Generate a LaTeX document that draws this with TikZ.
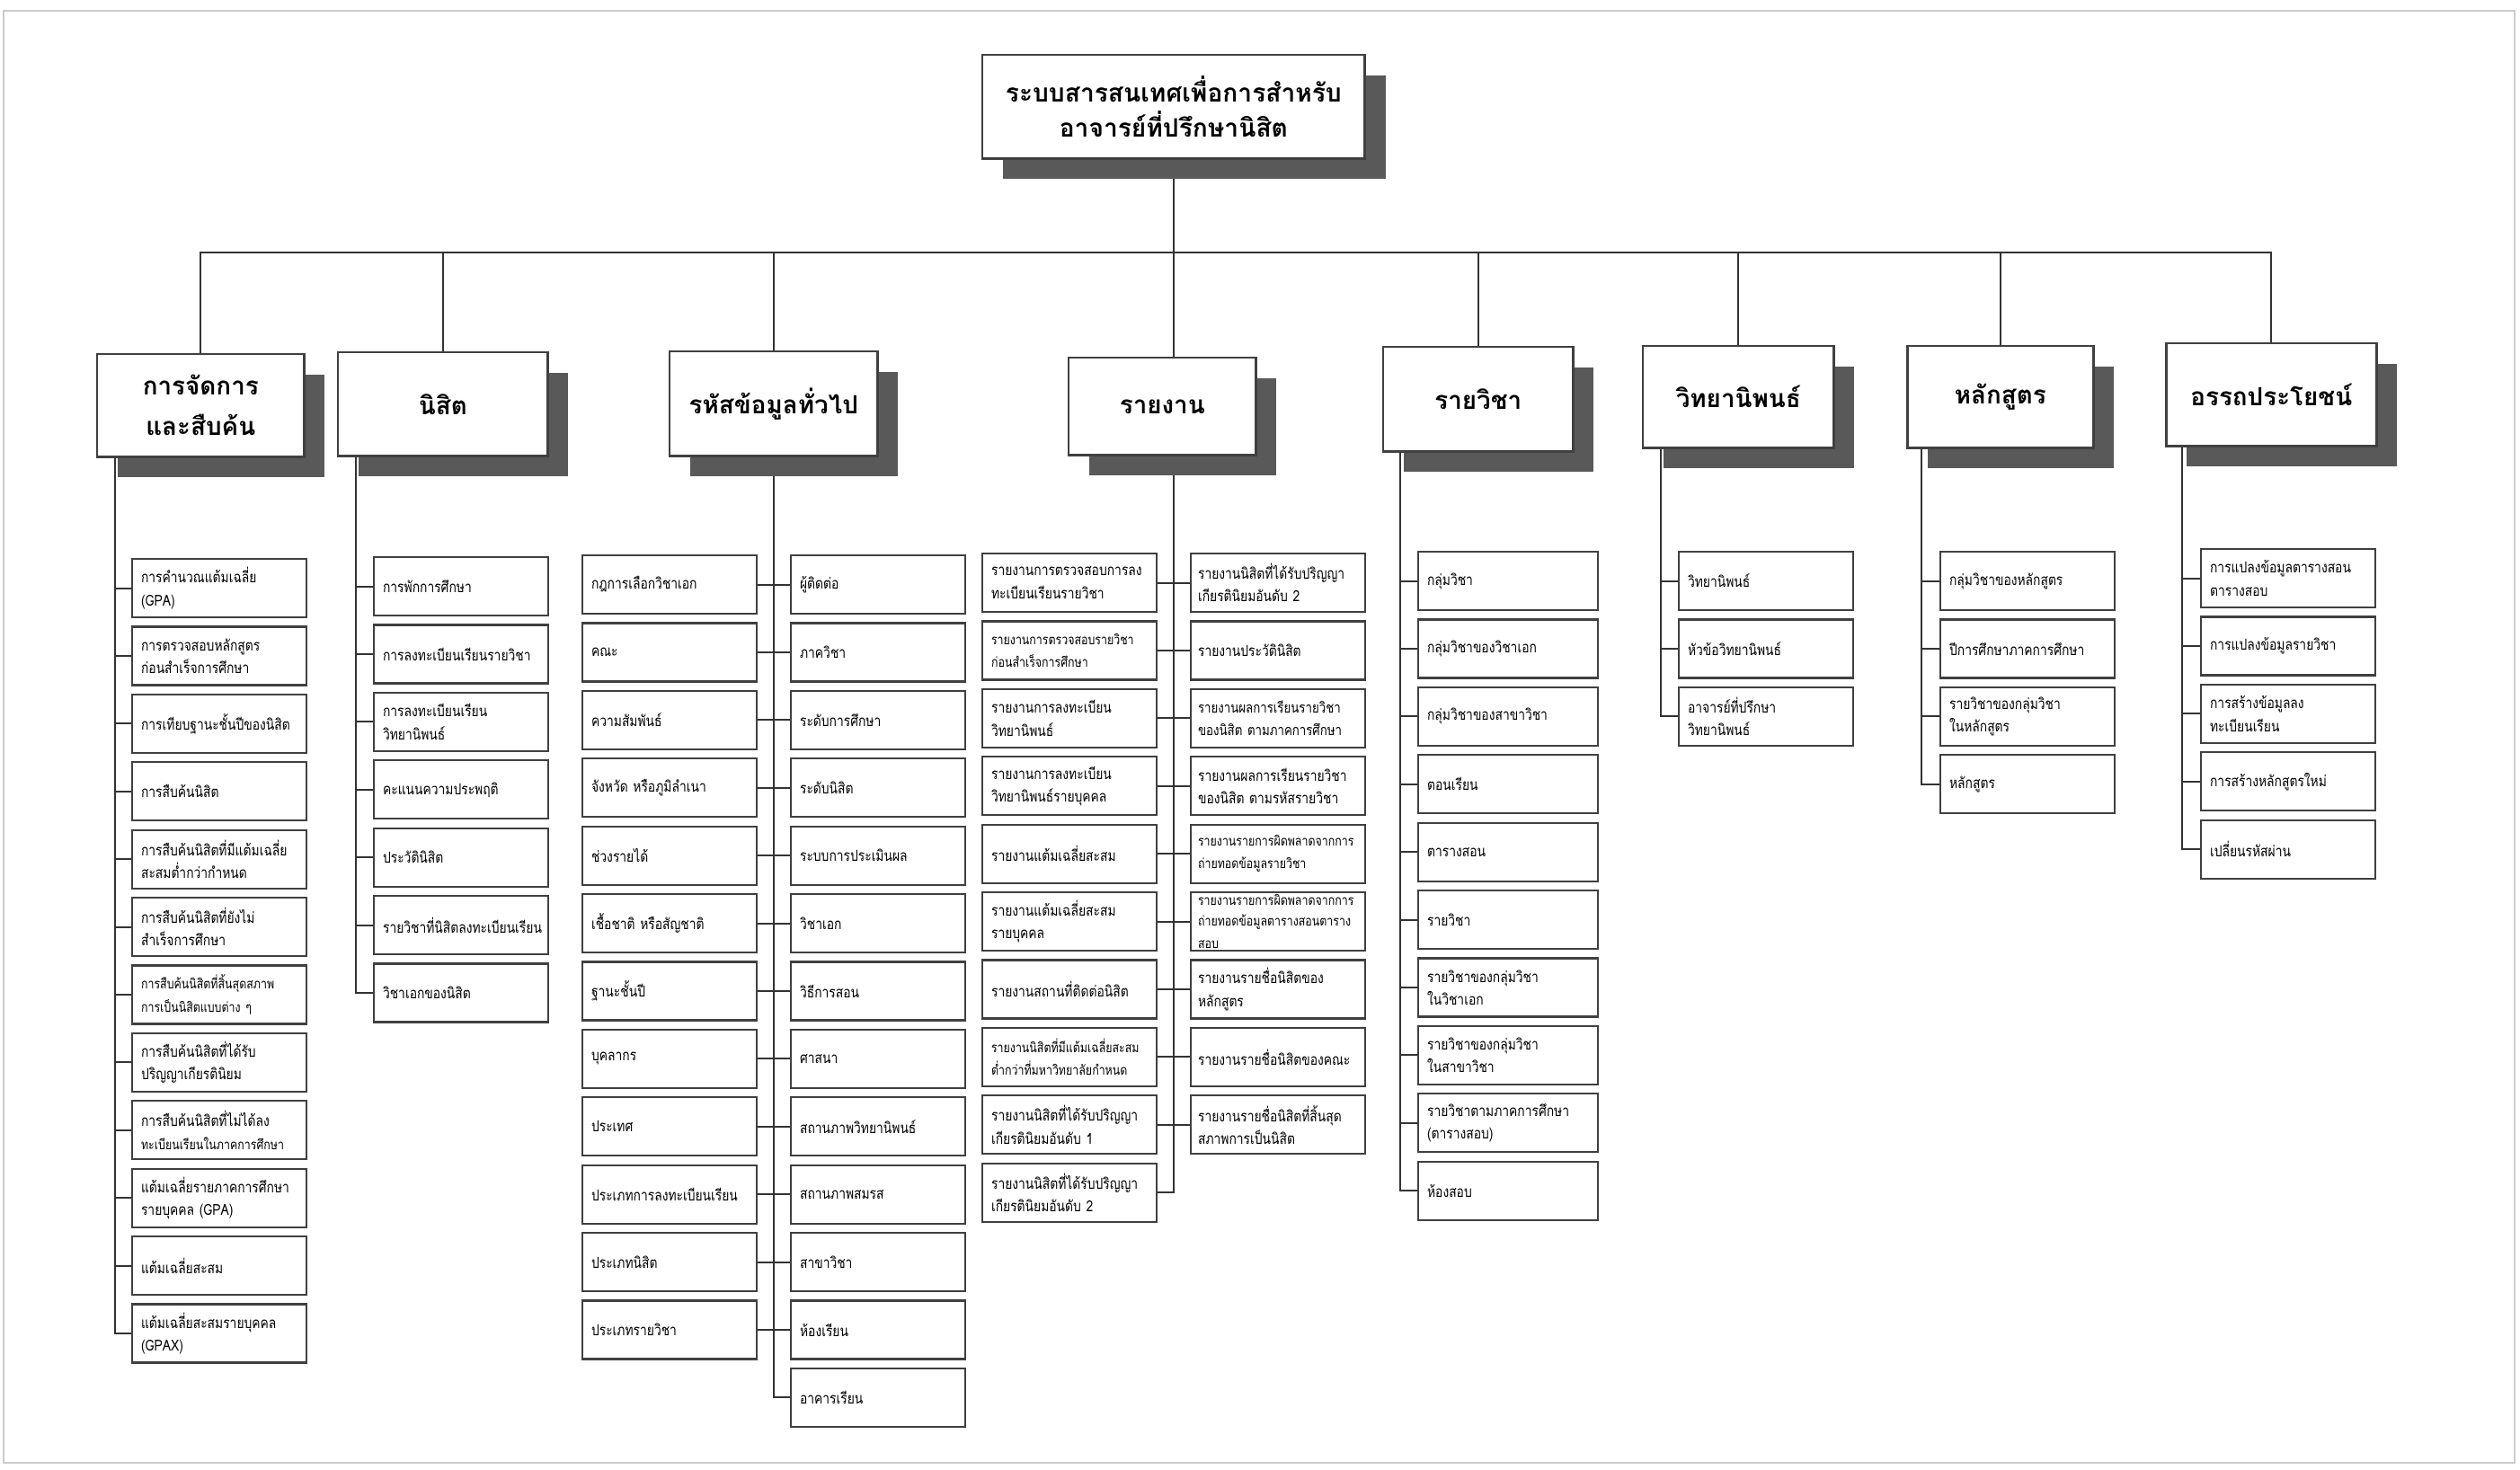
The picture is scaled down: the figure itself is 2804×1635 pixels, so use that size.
\documentclass[tikz,border=0pt]{standalone}
\usepackage{fontspec}
\newfontfamily\thai[Script=Thai]{Loma}
\newfontfamily\thaic[Script=Thai, FakeStretch=0.82]{Loma}
\usetikzlibrary{shadows}
\pgfdeclarelayer{bg}
\pgfsetlayers{bg,main}
\newcommand\sm{\fontsize{4.3}{6.3}\selectfont}
\begin{document}
\begin{tikzpicture}[x=0.01cm,y=-0.01cm,
  conn/.style={draw=black!80, line width=0.55pt},
  itm/.style={draw=black!75, line width=0.6pt, fill=white, anchor=north west,
    minimum width=1.94cm, minimum height=0.65cm, text width=1.74cm, align=left,
    inner sep=0pt, font=\thaic\fontsize{4.8}{7.2}\selectfont},
  hdr/.style={draw=black!75, line width=0.7pt, fill=white, anchor=north west,
    inner sep=0pt, align=center, font=\thai\bfseries\fontsize{7.9}{12.8}\selectfont,
    general shadow={fill=black!65, shadow xshift=0.23cm, shadow yshift=-0.23cm}}]
\useasboundingbox (0,0) rectangle (2804,1635);
\draw[gray!40, line width=0.5pt] (4,12) rectangle (2798,1628);

% title and headers
\node[hdr, minimum width=4.25cm, minimum height=1.15cm,
  font=\thai\bfseries\fontsize{8.0}{11}\selectfont] (title) at (1092,60)
  {ระบบสารสนเทศเพื่อการสำหรับ\\อาจารย์ที่ปรึกษานิสิต};
\node[hdr, minimum width=2.30cm, minimum height=1.14cm] (h1) at (107,393) {การจัดการ\\และสืบค้น};
\node[hdr, minimum width=2.33cm, minimum height=1.15cm] (h2) at (375,391) {นิสิต};
\node[hdr, minimum width=2.31cm, minimum height=1.16cm] (h3) at (744,390) {รหัสข้อมูลทั่วไป};
\node[hdr, minimum width=2.08cm, minimum height=1.08cm] (h4) at (1188,397) {รายงาน};
\node[hdr, minimum width=2.11cm, minimum height=1.16cm] (h5) at (1538,385) {รายวิชา};
\node[hdr, minimum width=2.12cm, minimum height=1.13cm] (h6) at (1827,384) {วิทยานิพนธ์};
\node[hdr, minimum width=2.07cm, minimum height=1.13cm] (h7) at (2121,384) {หลักสูตร};
\node[hdr, minimum width=2.34cm, minimum height=1.14cm] (h8) at (2409,381) {อรรถประโยชน์};

% column 1
\foreach \t [count=\i] in {การคำนวณแต้มเฉลี่ย\\(GPA),
  การตรวจสอบหลักสูตร\\ก่อนสำเร็จการศึกษา,
  การเทียบฐานะชั้นปีของนิสิต,
  การสืบค้นนิสิต,
  การสืบค้นนิสิตที่มีแต้มเฉลี่ย\\สะสมต่ำกว่ากำหนด,
  การสืบค้นนิสิตที่ยังไม่\\สำเร็จการศึกษา,
  \sm การสืบค้นนิสิตที่สิ้นสุดสภาพ\\การเป็นนิสิตแบบต่าง ๆ,
  การสืบค้นนิสิตที่ได้รับ\\ปริญญาเกียรตินิยม,
  การสืบค้นนิสิตที่ไม่ได้ลง\\{\sm ทะเบียนเรียนในภาคการศึกษา},
  แต้มเฉลี่ยรายภาคการศึกษา\\รายบุคคล (GPA),
  แต้มเฉลี่ยสะสม,
  แต้มเฉลี่ยสะสมรายบุคคล\\(GPAX)}
  \node[itm] (a\i) at (146,{621+75.4*(\i-1)}) {\t};

% column 2
\foreach \t [count=\i] in {การพักการศึกษา,
  การลงทะเบียนเรียนรายวิชา,
  การลงทะเบียนเรียน\\วิทยานิพนธ์,
  คะแนนความประพฤติ,
  ประวัตินิสิต,
  รายวิชาที่นิสิตลงทะเบียนเรียน,
  วิชาเอกของนิสิต}
  \node[itm] (b\i) at (415,{619+75.4*(\i-1)}) {\t};

% column 3
\foreach \t [count=\i] in {กฎการเลือกวิชาเอก, คณะ, ความสัมพันธ์,
  จังหวัด หรือภูมิลำเนา, ช่วงรายได้, เชื้อชาติ หรือสัญชาติ, ฐานะชั้นปี,
  บุคลากร, ประเทศ, ประเภทการลงทะเบียนเรียน, ประเภทนิสิต, ประเภทรายวิชา}
  \node[itm] (l\i) at (647,{617+75.4*(\i-1)}) {\t};
\foreach \t [count=\i] in {ผู้ติดต่อ, ภาควิชา, ระดับการศึกษา, ระดับนิสิต,
  ระบบการประเมินผล, วิชาเอก, วิธีการสอน, ศาสนา, สถานภาพวิทยานิพนธ์,
  สถานภาพสมรส, สาขาวิชา, ห้องเรียน, อาคารเรียน}
  \node[itm] (r\i) at (879,{617+75.4*(\i-1)}) {\t};

% column 4
\foreach \t [count=\i] in {รายงานการตรวจสอบการลง\\ทะเบียนเรียนรายวิชา,
  \sm รายงานการตรวจสอบรายวิชา\\ก่อนสำเร็จการศึกษา,
  รายงานการลงทะเบียน\\วิทยานิพนธ์,
  รายงานการลงทะเบียน\\วิทยานิพนธ์รายบุคคล,
  รายงานแต้มเฉลี่ยสะสม,
  รายงานแต้มเฉลี่ยสะสม\\รายบุคคล,
  รายงานสถานที่ติดต่อนิสิต,
  \sm รายงานนิสิตที่มีแต้มเฉลี่ยสะสม\\ต่ำกว่าที่มหาวิทยาลัยกำหนด,
  รายงานนิสิตที่ได้รับปริญญา\\เกียรตินิยมอันดับ 1,
  รายงานนิสิตที่ได้รับปริญญา\\เกียรตินิยมอันดับ 2}
  \node[itm] (p\i) at (1092,{615+75.4*(\i-1)}) {\t};
\foreach \t [count=\i] in {รายงานนิสิตที่ได้รับปริญญา\\เกียรตินิยมอันดับ 2,
  รายงานประวัตินิสิต,
  \fontsize{4.6}{7.2}\selectfont รายงานผลการเรียนรายวิชา\\ของนิสิต ตามภาคการศึกษา,
  รายงานผลการเรียนรายวิชา\\ของนิสิต ตามรหัสรายวิชา,
  \sm รายงานรายการผิดพลาดจากการ\\ถ่ายทอดข้อมูลรายวิชา,
  \sm รายงานรายการผิดพลาดจากการ\\ถ่ายทอดข้อมูลตารางสอนตาราง\\สอบ,
  รายงานรายชื่อนิสิตของ\\หลักสูตร,
  รายงานรายชื่อนิสิตของคณะ,
  รายงานรายชื่อนิสิตที่สิ้นสุด\\สภาพการเป็นนิสิต}
  \node[itm, text width=1.78cm] (q\i) at (1324,{615+75.4*(\i-1)}) {\t};

% column 5
\foreach \t [count=\i] in {กลุ่มวิชา, กลุ่มวิชาของวิชาเอก, กลุ่มวิชาของสาขาวิชา,
  ตอนเรียน, ตารางสอน, รายวิชา, รายวิชาของกลุ่มวิชา\\ในวิชาเอก,
  รายวิชาของกลุ่มวิชา\\ในสาขาวิชา, รายวิชาตามภาคการศึกษา\\(ตารางสอบ), ห้องสอบ}
  \node[itm, minimum width=2.0cm, text width=1.8cm] (e\i) at (1577,{613+75.4*(\i-1)}) {\t};

% column 6
\foreach \t [count=\i] in {วิทยานิพนธ์, หัวข้อวิทยานิพนธ์, อาจารย์ที่ปรึกษา\\วิทยานิพนธ์}
  \node[itm] (f\i) at (1867,{613+75.4*(\i-1)}) {\t};

% column 7
\foreach \t [count=\i] in {กลุ่มวิชาของหลักสูตร, ปีการศึกษาภาคการศึกษา,
  รายวิชาของกลุ่มวิชา\\ในหลักสูตร, หลักสูตร}
  \node[itm] (g\i) at (2158,{613+75.4*(\i-1)}) {\t};

% column 8
\foreach \t [count=\i] in {การแปลงข้อมูลตารางสอน\\ตารางสอบ, การแปลงข้อมูลรายวิชา,
  การสร้างข้อมูลลง\\ทะเบียนเรียน, การสร้างหลักสูตรใหม่, เปลี่ยนรหัสผ่าน}
  \node[itm] (k\i) at (2448,{610+75.4*(\i-1)}) {\t};

% connectors
\begin{pgfonlayer}{bg}
\coordinate (bus) at (0,281);
\draw[conn] (title.south) -- (title.south |- h4.north);
\draw[conn] (h1.north) -- (h1.north |- bus) -- (h8.north |- bus) -- (h8.north);
\foreach \h in {h2,h3,h5,h6,h7} \draw[conn] (\h.north) -- (\h.north |- bus);
\coordinate (t1) at ([xshift=0.21cm]h1.south west);
\coordinate (t2) at ([xshift=0.21cm]h2.south west);
\coordinate (t4) at (title.south |- h4.south);
\coordinate (t5) at ([xshift=0.20cm]h5.south west);
\coordinate (t6) at ([xshift=0.21cm]h6.south west);
\coordinate (t7) at ([xshift=0.17cm]h7.south west);
\coordinate (t8) at ([xshift=0.19cm]h8.south west);
\foreach \i in {1,...,12} \draw[conn] (t1) |- (a\i.west);
\foreach \i in {1,...,7} \draw[conn] (t2) |- (b\i.west);
\foreach \i in {1,...,12} \draw[conn] (l\i.east) -- (r\i.west);
\draw[conn] (h3.south) |- (r13.west);
\foreach \i in {1,...,9} \draw[conn] (p\i.east) -- (q\i.west);
\draw[conn] (t4) |- (p10.east);
\foreach \i in {1,...,10} \draw[conn] (t5) |- (e\i.west);
\foreach \i in {1,...,3} \draw[conn] (t6) |- (f\i.west);
\foreach \i in {1,...,4} \draw[conn] (t7) |- (g\i.west);
\foreach \i in {1,...,5} \draw[conn] (t8) |- (k\i.west);
\end{pgfonlayer}
\end{tikzpicture}
\end{document}
